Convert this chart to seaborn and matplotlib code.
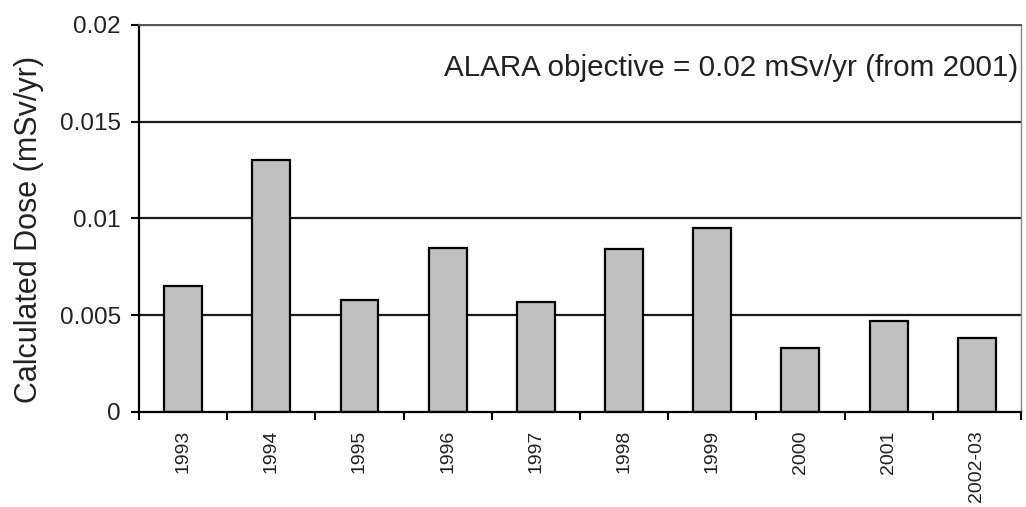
import numpy as np
import pandas as pd
import matplotlib
matplotlib.use("Agg")
import matplotlib.pyplot as plt
import seaborn as sns

years = ["1993", "1994", "1995", "1996", "1997", "1998", "1999", "2000", "2001", "2002-03"]
dose = [0.0065, 0.0130, 0.0058, 0.0085, 0.0057, 0.0084, 0.0095, 0.0033, 0.0047, 0.0038]
y_ticks = [0, 0.005, 0.01, 0.015, 0.02]
y_tick_labels = ["0", "0.005", "0.01", "0.015", "0.02"]
note = "ALARA objective = 0.02 mSv/yr (from 2001)"

sns.set_style("white")
plt.rcParams["font.family"] = ["Liberation Sans", "DejaVu Sans"]

df = pd.DataFrame({"year": years, "dose": dose})

fig = plt.figure(figsize=(10.26, 5.07), dpi=100)
ax = fig.add_axes([0.1355, 0.1874, 0.8595, 0.7633])

# grid lines behind bars
for yv in y_ticks[1:]:
    ax.axhline(yv, color="#1a1a1a", lw=1.6, zorder=0)

sns.barplot(data=df, x="year", y="dose", color="#c0c0c0", edgecolor="black",
            linewidth=1.6, width=0.43, saturation=1, ax=ax, zorder=2)

ax.set_xlim(-0.5, len(years) - 0.5)
ax.set_ylim(0, 0.02)
ax.set_yticks(y_ticks)
ax.set_yticklabels(y_tick_labels, fontsize=17.5, color="#222222")
ax.tick_params(axis="y", direction="out", length=6, width=1.5, color="black", pad=7, left=True)

ax.set_xticks(range(len(years)))
ax.set_xticklabels(years, rotation=90, fontsize=14, color="#222222")
ax.tick_params(axis="x", which="major", length=0, pad=13)
ax.set_xticks(np.arange(-0.5, len(years)), minor=True)
ax.tick_params(axis="x", which="minor", direction="out", length=6, width=1.5, color="black", bottom=True)

ax.set_xlabel("")
ax.set_ylabel("Calculated Dose (mSv/yr)", fontsize=22, color="#222222")
ax.yaxis.set_label_coords(-0.108, 0.472)

for side in ["left", "bottom"]:
    ax.spines[side].set_color("black")
    ax.spines[side].set_linewidth(1.6)
ax.spines["top"].set_color("#555555")
ax.spines["top"].set_linewidth(1.4)
ax.spines["right"].set_color("#888888")
ax.spines["right"].set_linewidth(1.0)

ax.text(0.997, 0.89, note, transform=ax.transAxes, ha="right", va="center",
        fontsize=21.3, color="#222222")

fig.savefig("out.png", dpi=100)
